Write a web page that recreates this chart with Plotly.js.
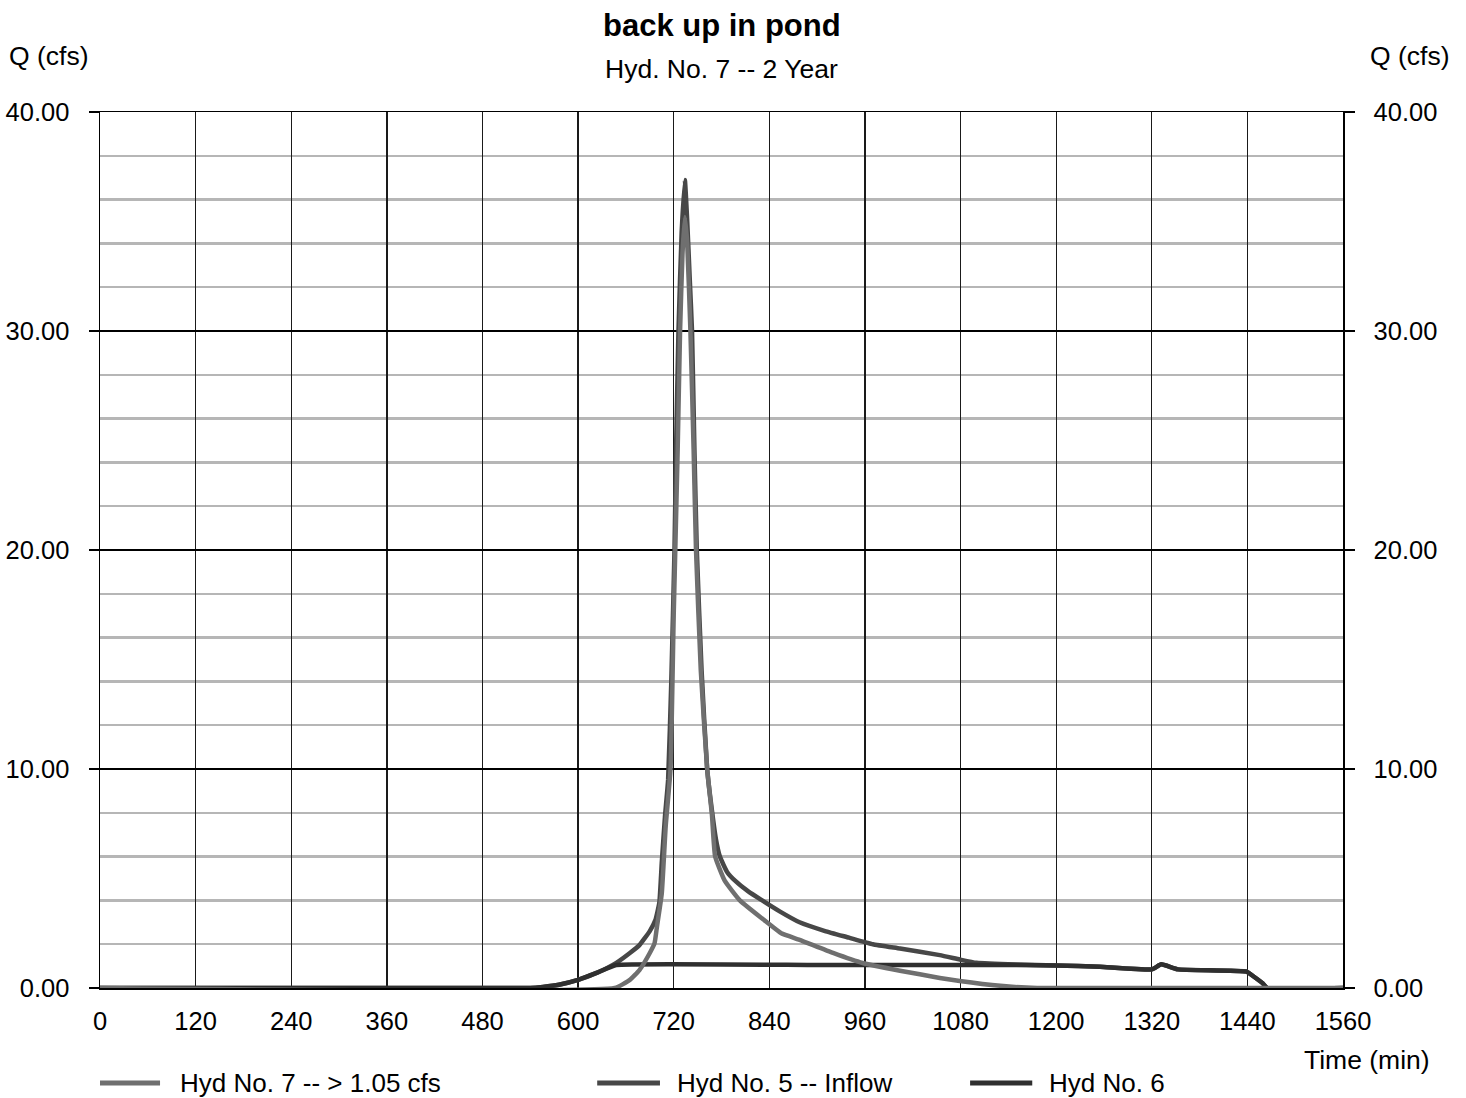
<!DOCTYPE html>
<html>
<head>
<meta charset="utf-8">
<script src="https://cdn.plot.ly/plotly-3.0.1.min.js"></script>
<style>
  html, body { margin: 0; padding: 0; background: #ffffff; }
  #chart { width: 1466px; height: 1098px; }
</style>
</head>
<body>
<div id="chart"></div>
<script>
// Hyd No. 5 -- inflow hydrograph (time in min, Q in cfs)
const hyd5Time = [0, 540, 556, 576, 600, 624, 648, 665, 677, 690, 697, 702, 705, 709, 713, 717, 721, 723, 726, 730, 734, 737, 740, 743, 746, 749, 755, 762, 768, 773, 778, 787, 797, 814, 831, 853, 878, 910, 940, 970, 1004, 1054, 1079, 1100, 1150, 1200, 1255, 1320, 1332, 1353, 1439, 1447, 1459, 1465, 1560];
const hyd5Q    = [0, 0, 0.05, 0.15, 0.37, 0.7, 1.15, 1.6, 1.96, 2.6, 3.1, 3.9, 5.7, 7.8, 9.5, 14, 20, 24.6, 30, 34.5, 36.9, 35, 32.5, 30, 24.6, 20, 14.5, 10, 8.1, 6.8, 6.0, 5.3, 4.9, 4.4, 4.0, 3.5, 3.0, 2.6, 2.3, 2.0, 1.8, 1.5, 1.3, 1.15, 1.07, 1.03, 0.97, 0.85, 1.08, 0.85, 0.75, 0.55, 0.22, 0, 0];

// Hyd No. 6 -- flow passed up to 1.05 cfs
const hyd6Time = [0, 540, 556, 576, 600, 624, 648, 900, 1100, 1150, 1200, 1255, 1320, 1332, 1353, 1439, 1447, 1459, 1465, 1560];
const hyd6Q    = [0, 0, 0.05, 0.15, 0.37, 0.7, 1.05, 1.05, 1.05, 1.05, 1.03, 0.97, 0.85, 1.08, 0.85, 0.75, 0.55, 0.22, 0, 0];

// Hyd No. 7 -- flow above 1.05 cfs
const hyd7Time = [0, 646, 665, 677, 690, 696, 699, 705, 710, 716, 720, 722, 725, 728, 731, 734, 737, 741, 745, 748, 754, 762, 768, 772, 784, 803, 837, 855, 878, 920, 957, 1004, 1054, 1079, 1130, 1176, 1560];
const hyd7Q    = [0, 0, 0.37, 0.82, 1.6, 2.05, 2.8, 4.3, 7.4, 10, 17, 20, 24.6, 30, 33.5, 35.2, 34, 30, 24.6, 20, 14.5, 10, 7.9, 6.0, 4.9, 4.0, 3.0, 2.5, 2.2, 1.6, 1.14, 0.79, 0.46, 0.32, 0.1, 0, 0];

// Axis ticks
const timeTicks = [0, 120, 240, 360, 480, 600, 720, 840, 960, 1080, 1200, 1320, 1440, 1560];
const qTicks = [0, 10, 20, 30, 40];

// Legend entries
const legendLabels = ['Hyd No. 7 -- > 1.05 cfs', 'Hyd No. 5 -- Inflow', 'Hyd No. 6'];
const seriesColors = ['#6f6f6f', '#474747', '#2f2f2f'];

const FONT = '"Liberation Sans", Arial, Helvetica, sans-serif';
const LINE_W = 4.5;

const traces = [
  { x: hyd5Time, y: hyd5Q, type: 'scatter', mode: 'lines', name: legendLabels[1],
    line: { color: seriesColors[1], width: LINE_W, shape: 'spline', smoothing: 0.4 }, showlegend: false },
  { x: hyd6Time, y: hyd6Q, type: 'scatter', mode: 'lines', name: legendLabels[2],
    line: { color: seriesColors[2], width: LINE_W, shape: 'spline', smoothing: 0.3 }, showlegend: false },
  { x: hyd7Time, y: hyd7Q, type: 'scatter', mode: 'lines', name: legendLabels[0],
    line: { color: seriesColors[0], width: LINE_W, shape: 'spline', smoothing: 0.4 }, showlegend: false },
  // carries the right-hand Q axis
  { x: [], y: [], type: 'scatter', mode: 'lines', yaxis: 'y2', showlegend: false, hoverinfo: 'skip' }
];

// Legend drawn below the plot: swatch line + label for each hydrograph
const legendX = [[0, 0.0483, 0.0628], [0.4, 0.4505, 0.4626], [0.7, 0.75, 0.762]];
const legendOrder = [0, 1, 2];
const legendY = -0.1084;
const shapes = legendOrder.map((k, i) => ({
  type: 'line', xref: 'paper', yref: 'paper',
  x0: legendX[i][0], x1: legendX[i][1], y0: legendY, y1: legendY,
  line: { color: seriesColors[k], width: 5 }
}));

const annotations = [
  { text: '<b>back up in pond</b>', x: 0.5, y: 1.0982, xref: 'paper', yref: 'paper',
    xanchor: 'center', yanchor: 'middle', showarrow: false, font: { family: FONT, size: 31, color: '#000' } },
  { text: 'Hyd. No. 7 -- 2 Year', x: 0.5, y: 1.049, xref: 'paper', yref: 'paper',
    xanchor: 'center', yanchor: 'middle', showarrow: false, font: { family: FONT, size: 26.5, color: '#000' } },
  { text: 'Q (cfs)', x: -0.0745, y: 1.0639, xref: 'paper', yref: 'paper',
    xanchor: 'left', yanchor: 'middle', showarrow: false, font: { family: FONT, size: 26.5, color: '#000' } },
  { text: 'Q (cfs)', x: 1.088, y: 1.0639, xref: 'paper', yref: 'paper',
    xanchor: 'right', yanchor: 'middle', showarrow: false, font: { family: FONT, size: 26.5, color: '#000' } },
  { text: 'Time (min)', x: 1.072, y: -0.0822, xref: 'paper', yref: 'paper',
    xanchor: 'right', yanchor: 'middle', showarrow: false, font: { family: FONT, size: 26.5, color: '#000' } }
].concat(legendOrder.map((k, i) => ({
  text: legendLabels[k], x: legendX[i][2], y: legendY, xref: 'paper', yref: 'paper',
  xanchor: 'left', yanchor: 'middle', showarrow: false, font: { family: FONT, size: 26, color: '#000' }
})));

const yCommon = {
  range: [0, 40], tickmode: 'array', tickvals: qTicks, tickformat: '.2f',
  ticks: 'outside', ticklen: 10, tickwidth: 1.5, tickcolor: '#000',
  ticklabelstandoff: 14,
  tickfont: { family: FONT, size: 25.5, color: '#000' },
  showline: true, linecolor: '#000', linewidth: 1.5,
  zeroline: false, fixedrange: true
};

const layout = {
  width: 1466, height: 1098,
  margin: { l: 100, r: 123, t: 112, b: 110, pad: 0 },
  paper_bgcolor: '#ffffff', plot_bgcolor: '#ffffff',
  font: { family: FONT, color: '#000' },
  showlegend: false,
  xaxis: {
    range: [0, 1560], tickmode: 'array', tickvals: timeTicks, ticks: '',
    ticklabelstandoff: 10,
    tickfont: { family: FONT, size: 25.5, color: '#000' },
    showgrid: true, gridcolor: '#1a1a1a', gridwidth: 1.3,
    showline: true, linecolor: '#000', linewidth: 1.5, mirror: true,
    zeroline: false, fixedrange: true
  },
  yaxis: Object.assign({}, yCommon, {
    side: 'left',
    showgrid: true, gridcolor: '#000', gridwidth: 1.5,
    minor: { dtick: 2, showgrid: true, gridcolor: '#b6b6b6', gridwidth: 2.5, ticks: '' }
  }),
  yaxis2: Object.assign({}, yCommon, {
    overlaying: 'y', side: 'right', showgrid: false
  }),
  shapes: shapes,
  annotations: annotations
};

Plotly.newPlot('chart', traces, layout, { staticPlot: true, displayModeBar: false });
</script>
</body>
</html>
